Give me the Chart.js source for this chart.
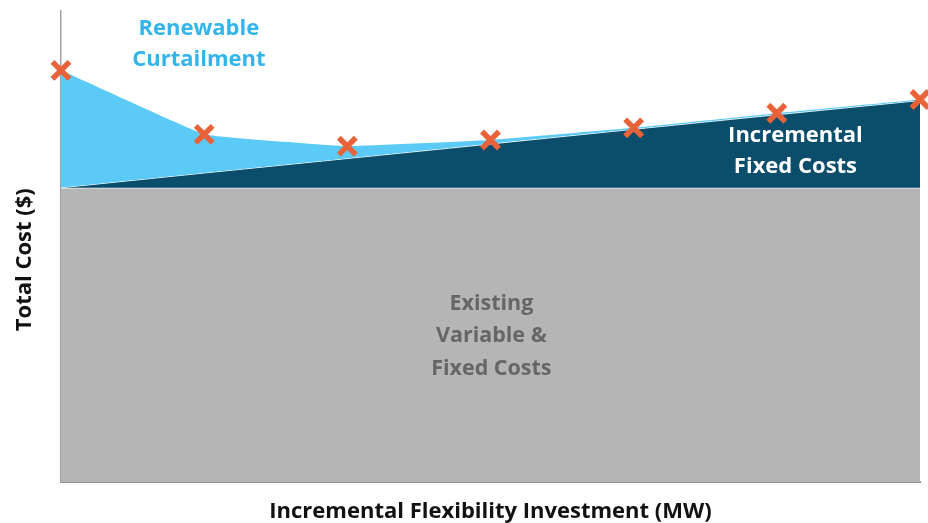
<!DOCTYPE html>
<html>
<head>
<meta charset="utf-8">
<script src="https://cdn.jsdelivr.net/npm/chart.js@4.4.1/dist/chart.umd.min.js"></script>
<style>
  html, body { margin: 0; padding: 0; background: #fff; }
  #wrap { width: 928px; height: 523px; }
</style>
</head>
<body>
<div id="wrap"><canvas id="costChart"></canvas></div>
<script>
// Investment steps along the x axis (MW, unitless)
var steps = [0, 1, 2, 3, 4, 5, 6];

// Cost levels ($, relative units)
var existingCosts = [62.5, 62.5, 62.5, 62.5, 62.5, 62.5, 62.5];
var fixedCosts = [62.5, 65.6, 68.7, 71.8, 74.9, 78.0, 81.0];
var totalCosts = [87.4, 73.8, 71.3, 72.6, 75.2, 78.3, 81.2];

var FONT = '"Open Sans", "DejaVu Sans", sans-serif';

// area labels and axis titles drawn over the chart
var labelPlugin = {
	id: 'areaLabels',
	afterDraw: function(chart) {
		var ctx = chart.ctx;
		var a = chart.chartArea;
		var w = a.right - a.left;
		var h = a.bottom - a.top;

		function lines(text, cx, cy, gap, color, size) {
			ctx.save();
			ctx.fillStyle = color;
			ctx.font = 'bold ' + size + 'px ' + FONT;
			ctx.textAlign = 'center';
			ctx.textBaseline = 'middle';
			text.forEach(function(t, i) {
				ctx.fillText(t, cx, cy + i * gap);
			});
			ctx.restore();
		}

		lines(['Renewable', 'Curtailment'], a.left + w * 0.1605, a.top + h * 0.038, 31, '#33b5ec', 22);
		lines(['Incremental', 'Fixed Costs'], a.left + w * 0.855, a.top + h * 0.264, 31, '#ffffff', 22);
		lines(['Existing', 'Variable &', 'Fixed Costs'], a.left + w * 0.501, a.top + h * 0.621, 32.5, '#666666', 21.5);

		// axis titles
		ctx.save();
		ctx.fillStyle = '#111';
		ctx.font = 'bold 22px ' + FONT;
		ctx.textAlign = 'center';
		ctx.textBaseline = 'middle';
		ctx.fillText('Incremental Flexibility Investment (MW)', a.left + w * 0.5, a.bottom + 30);
		ctx.translate(a.left - 36, a.top + h * 0.528);
		ctx.rotate(-Math.PI / 2);
		ctx.fillText('Total Cost ($)', 0, 0);
		ctx.restore();
	}
};

var ctx = document.getElementById('costChart').getContext('2d');
var chart = new Chart(ctx, {
	type: 'line',
	data: {
		labels: steps,
		datasets: [
			{
				label: 'Existing Variable & Fixed Costs',
				data: existingCosts,
				fill: 'origin',
				backgroundColor: '#b5b5b5',
				borderColor: '#eef2f4',
				borderWidth: 1.5,
				pointRadius: 0,
				order: 3
			},
			{
				label: 'Incremental Fixed Costs',
				data: fixedCosts,
				fill: '-1',
				backgroundColor: '#0b4e6c',
				borderColor: '#e6f3f8',
				borderWidth: 1.2,
				pointRadius: 0,
				order: 2
			},
			{
				label: 'Renewable Curtailment',
				data: totalCosts,
				fill: { target: '-1', above: '#5ccaf6', below: 'rgba(0,0,0,0)' },
				borderColor: 'rgba(0,0,0,0)',
				borderWidth: 0,
				tension: 0.06,
				pointRadius: 0,
				order: 1
			},
			{
				label: 'Total Cost',
				data: totalCosts,
				showLine: false,
				fill: false,
				pointStyle: 'crossRot',
				pointRadius: 12,
				pointBorderWidth: 5.5,
				pointBorderColor: '#e8633a',
				pointBackgroundColor: '#e8633a',
				clip: false,
				order: 0
			}
		]
	},
	options: {
		responsive: true,
		maintainAspectRatio: false,
		animation: false,
		layout: { autoPadding: false, padding: { left: 53, right: 8, top: 11, bottom: 33 } },
		plugins: {
			legend: { display: false },
			tooltip: { enabled: false }
		},
		scales: {
			x: {
				offset: false,
				grid: { display: false },
				ticks: { display: false },
				border: { display: true, color: '#8f8f8f', width: 2 }
			},
			y: {
				min: 0,
				max: 100,
				grid: { display: false },
				ticks: { display: false },
				border: { display: true, color: '#a3a3a3', width: 1.5 }
			}
		}
	},
	plugins: [labelPlugin]
});
</script>
</body>
</html>
